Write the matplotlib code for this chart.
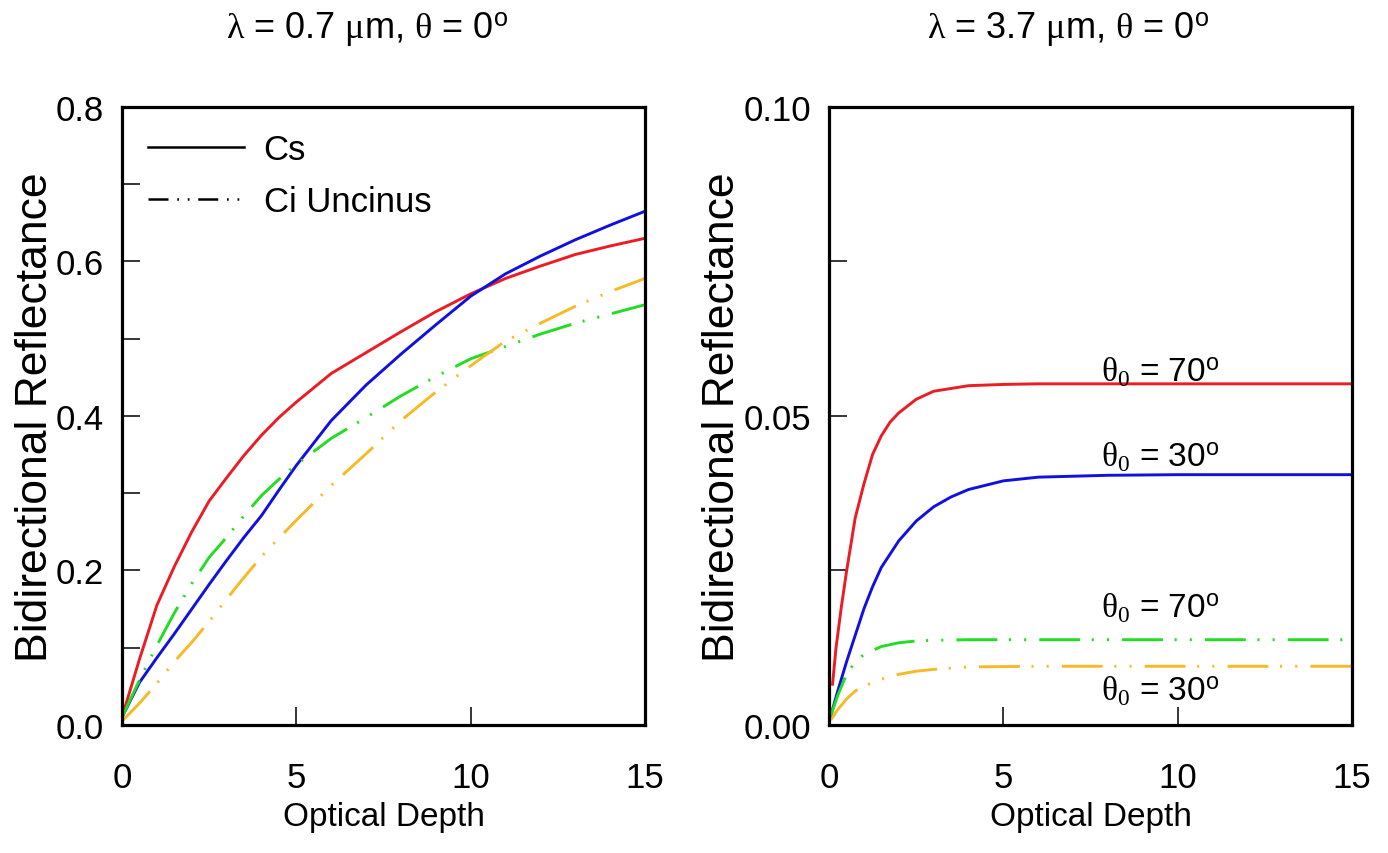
import matplotlib
matplotlib.use("Agg")
import matplotlib.pyplot as plt
from matplotlib.lines import Line2D
from matplotlib.ticker import MultipleLocator

plt.rcParams["font.family"] = ["Liberation Sans", "DejaVu Sans"]
plt.rcParams["mathtext.fontset"] = "custom"
plt.rcParams["mathtext.rm"] = "Liberation Serif"
plt.rcParams["mathtext.it"] = "Liberation Serif:italic"
plt.rcParams["mathtext.sf"] = "Liberation Sans"
plt.rcParams["font.size"] = 18

# --- left panel: lambda = 0.7 um ---
x_left = [0, 0.5, 1, 1.5, 2, 2.5, 3, 3.5, 4, 4.5, 5, 6, 7, 8, 9, 10, 11, 12, 13, 14, 15]
cs70_left = [0.01, 0.085, 0.155, 0.205, 0.25, 0.29, 0.32, 0.349, 0.375, 0.398, 0.418, 0.455,
             0.482, 0.509, 0.535, 0.558, 0.578, 0.594, 0.609, 0.62, 0.63]
cs30_left = [0.01, 0.055, 0.087, 0.118, 0.15, 0.182, 0.213, 0.243, 0.271, 0.304, 0.336, 0.394,
             0.44, 0.48, 0.518, 0.555, 0.584, 0.607, 0.628, 0.647, 0.665]
ci70_left = [0.01, 0.058, 0.103, 0.145, 0.183, 0.217, 0.243, 0.271, 0.297, 0.318, 0.337, 0.371,
             0.398, 0.426, 0.451, 0.474, 0.49, 0.506, 0.52, 0.532, 0.544]
ci30_left = [0.005, 0.028, 0.054, 0.082, 0.107, 0.134, 0.163, 0.191, 0.218, 0.242, 0.265, 0.31,
             0.351, 0.394, 0.431, 0.465, 0.497, 0.52, 0.542, 0.561, 0.578]

# --- right panel: lambda = 3.7 um ---
x_cs70_right = [0.1, 0.2, 0.35, 0.5, 0.75, 1, 1.25, 1.5, 1.75, 2, 2.5, 3, 4, 5, 6, 8, 10, 12, 15]
cs70_right = [0.0066, 0.0125, 0.019, 0.0248, 0.0335, 0.039, 0.0438, 0.0468, 0.049, 0.0505,
              0.0527, 0.054, 0.0549, 0.0551, 0.0552, 0.0552, 0.0552, 0.0552, 0.0552]
x_cs30_right = [0.05, 0.25, 0.5, 0.75, 1, 1.25, 1.5, 2, 2.5, 3, 3.5, 4, 5, 6, 8, 10, 12, 15]
cs30_right = [0.0015, 0.0055, 0.0102, 0.0145, 0.0188, 0.0224, 0.0255, 0.0298, 0.033, 0.0353,
              0.0369, 0.0381, 0.0395, 0.0401, 0.0404, 0.0405, 0.0405, 0.0405]
x_ci_right = [0.05, 0.25, 0.5, 0.75, 1, 1.5, 2, 2.5, 3, 4, 6, 10, 15]
ci70_right = [0.0015, 0.0048, 0.0082, 0.0102, 0.0114, 0.0127, 0.0133, 0.0136, 0.0137, 0.0138,
              0.0138, 0.0138, 0.0138]
ci30_right = [0.0008, 0.0025, 0.0042, 0.0055, 0.0063, 0.0074, 0.0082, 0.0087, 0.009, 0.0094,
              0.0095, 0.0095, 0.0095]

labels_right = [r"$\mathrm{\theta}_0$ = 70$^{\mathsf{o}}$", r"$\mathrm{\theta}_0$ = 30$^{\mathsf{o}}$",
                r"$\mathrm{\theta}_0$ = 70$^{\mathsf{o}}$", r"$\mathrm{\theta}_0$ = 30$^{\mathsf{o}}$"]
label_pos = [(9.5, 0.0572), (9.5, 0.0434), (9.5, 0.0191), (9.5, 0.0056)]

RED, BLUE, GREEN, ORANGE = "#ec1c24", "#1010e0", "#22dd22", "#f7b926"
LW = 2.1
dashdotdot = (0, (14, 4, 0.7, 4.5, 0.7, 4.5))

fig = plt.figure(figsize=(13.88, 8.54), dpi=100)
axl = fig.add_axes([0.0879, 0.1499, 0.3768, 0.7237])
axr = fig.add_axes([0.5973, 0.1499, 0.3768, 0.7237])

axl.plot(x_left, cs70_left, color=RED, lw=LW)
axl.plot(x_left, cs30_left, color=BLUE, lw=LW)
axl.plot(x_left, ci70_left, color=GREEN, lw=LW, ls=dashdotdot)
axl.plot(x_left, ci30_left, color=ORANGE, lw=LW, ls=dashdotdot)

axr.plot(x_cs70_right, cs70_right, color=RED, lw=LW)
axr.plot(x_cs30_right, cs30_right, color=BLUE, lw=LW)
axr.plot(x_ci_right, ci70_right, color=GREEN, lw=LW, ls=dashdotdot)
axr.plot(x_ci_right, ci30_right, color=ORANGE, lw=LW, ls=dashdotdot)

for txt, (tx, ty) in zip(labels_right, label_pos):
    axr.text(tx, ty, txt, ha="center", va="center", fontsize=24)

axl.set_xlim(0, 15)
axl.set_ylim(0, 0.8)
axl.yaxis.set_major_locator(MultipleLocator(0.2))
axl.yaxis.set_minor_locator(MultipleLocator(0.1))
axl.yaxis.set_major_formatter(lambda v, p: f"{v:.1f}")

axr.set_xlim(0, 15)
axr.set_ylim(0, 0.1)
axr.yaxis.set_major_locator(MultipleLocator(0.05))
axr.yaxis.set_minor_locator(MultipleLocator(0.025))
axr.yaxis.set_major_formatter(lambda v, p: f"{v:.2f}")

titles = [r"$\mathrm{\lambda}$ = 0.7 $\mathrm{\mu}$m, $\mathrm{\theta}$ = 0$^{\mathsf{o}}$",
          r"$\mathrm{\lambda}$ = 3.7 $\mathrm{\mu}$m, $\mathrm{\theta}$ = 0$^{\mathsf{o}}$"]
for ax, title, tx in zip([axl, axr], titles, [0.468, 0.457]):
    ax.xaxis.set_major_locator(MultipleLocator(5))
    ax.tick_params(which="both", direction="in", length=13, width=1.1,
                   labelsize=25, top=False, right=False)
    ax.tick_params(axis="x", pad=26)
    ax.tick_params(axis="y", pad=13)
    for sp in ax.spines.values():
        sp.set_linewidth(2.3)
    ax.set_xlabel("Optical Depth", fontsize=24, labelpad=5)
    ax.set_ylabel("Bidirectional Reflectance", fontsize=32, labelpad=0)
    ax.text(tx, 1.127, title, transform=ax.transAxes, ha="center", va="center", fontsize=26)

handles = [Line2D([], [], color="black", lw=1.8),
           Line2D([], [], color="black", lw=1.8, ls=(0, (8, 3.5, 0.7, 3.5, 0.7, 3.5)))]
axl.legend(handles, ["Cs", "Ci Uncinus"], loc="upper left", frameon=False,
           handlelength=2.75, handletextpad=0.58, labelspacing=0.55, fontsize=25,
           bbox_to_anchor=(0.0, 1.0), borderaxespad=0.35)

fig.savefig("out.png", dpi=100, facecolor="white")
